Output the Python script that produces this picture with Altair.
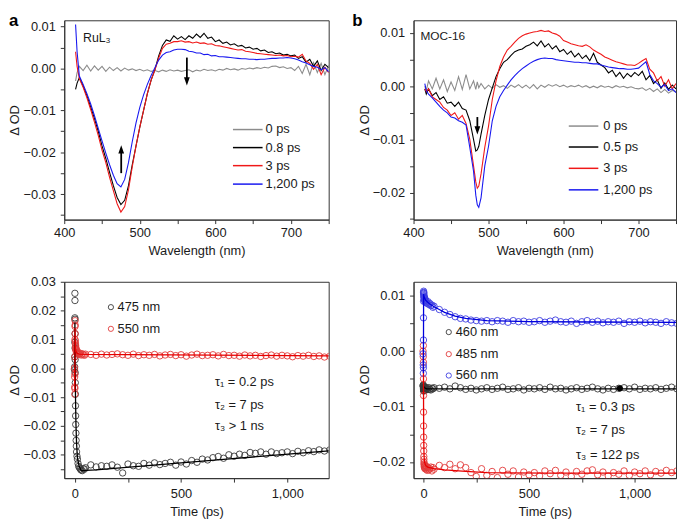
import altair as alt
import pandas as pd

FONT = "Liberation Sans"
INK = "#1a1a1a"

# ---------------- spectra, panel a (RuL3), values in mOD ----------------
WL_A = [415, 417, 420, 425, 430, 435, 440, 445, 450, 455,
        460, 465, 470, 475, 480, 485, 490, 495, 500, 505,
        510, 515, 520, 525, 530, 535, 540, 545, 550, 555,
        560, 565, 570, 575, 580, 585, 590, 595, 600, 605,
        610, 615, 620, 625, 630, 635, 640, 645, 650, 655,
        660, 665, 670, 675, 680, 685, 690, 695, 700, 705,
        710, 715, 720, 725, 730, 735, 740, 745, 750]
A_0PS = [-3.0, -1.0, 0.5, -0.5, 0.8, -0.6, 0.6, -0.4, 0.5, -0.7,
         0.3, -0.5, 0.2, -0.6, 0.1, -0.4, -0.1, -0.5, -0.2, -0.6,
         -0.3, -0.7, -0.5, -0.8, -0.4, -0.7, -0.3, -0.6, -0.4, -0.7,
         -0.5, -0.3, -0.8, -0.4, -0.6, -0.2, -0.5, -0.3, -0.6, -0.2,
         -0.4, 0.0, -0.3, -0.1, -0.4, 0.0, -0.2, 0.1, -0.1, 0.2,
         0.0, 0.3, 0.1, 0.5, 0.6, 0.2, 0.4, 0.0, 0.2, -0.5,
         0.5, -1.2, 1.0, -1.5, 1.4, -1.0, 1.2, -1.5, 0.8]
A_08PS = [-5.0, -3.5, -2.2, -4.2, -6.5, -9.2, -12.0, -15.0, -18.5, -21.5,
          -24.8, -28.0, -30.8, -32.5, -31.5, -28.0, -23.0, -18.5, -14.0, -10.0,
          -6.0, -2.8, -0.3, 3.0, 5.5, 6.8, 6.5, 7.8, 7.0, 7.6,
          6.9, 7.8, 7.2, 8.2, 7.4, 8.4, 7.2, 7.5, 6.4, 6.8,
          6.0, 6.3, 5.6, 5.9, 5.3, 5.5, 4.9, 5.1, 4.6, 4.8,
          4.2, 4.4, 3.8, 4.0, 3.5, 3.7, 3.2, 3.4, 3.0, 3.2,
          2.4, 2.8, 1.5, 2.2, 0.5, 1.8, -0.5, 1.0, 0.2]
A_3PS = [4.0, 0.5, -2.4, -4.5, -7.0, -9.8, -12.8, -16.0, -19.5, -22.5,
         -26.0, -29.2, -32.3, -34.3, -33.0, -29.0, -23.5, -18.5, -14.0, -10.0,
         -6.0, -2.8, -0.4, 2.5, 4.8, 5.8, 6.0, 6.4, 6.4, 6.6,
         6.3, 6.4, 6.1, 6.3, 6.0, 6.1, 5.8, 5.9, 5.5, 5.4,
         5.2, 5.0, 4.8, 4.6, 4.4, 4.5, 4.1, 4.0, 3.8, 3.6,
         3.5, 3.4, 3.3, 3.2, 3.1, 3.2, 3.0, 3.1, 2.8, 2.9,
         2.7, 3.4, 1.8, 1.2, -0.2, 1.0, -1.5, 0.3, -1.0]
A_1200PS = [10.5, 4.0, -1.8, -3.8, -6.0, -8.5, -11.3, -14.3, -17.3, -20.2,
            -23.0, -25.5, -27.5, -28.3, -26.5, -22.5, -17.5, -13.0, -9.3, -6.3,
            -3.8, -1.7, 0.2, 2.0, 3.2, 3.8, 4.0, 4.4, 4.6, 4.6,
            4.5, 4.1, 4.0, 3.7, 3.7, 3.3, 3.4, 3.0, 3.1, 2.8,
            2.8, 2.7, 2.6, 2.5, 2.4, 2.3, 2.3, 2.2, 2.2, 2.1,
            2.2, 2.2, 2.3, 2.4, 2.4, 2.5, 2.5, 2.6, 2.5, 2.3,
            2.0, 1.6, 1.3, 0.9, 0.5, 0.3, -0.3, 0.2, -0.8]
SPEC_A_LABELS = ["0 ps", "0.8 ps", "3 ps", "1,200 ps"]

# ---------------- spectra, panel b (MOC-16), values in mOD ----------------
WL_B = [415, 417, 420, 425, 430, 435, 440, 445, 450, 455,
        460, 465, 470, 475, 480, 483, 485, 487, 490, 495,
        500, 505, 510, 515, 520, 525, 530, 535, 540, 545,
        550, 555, 560, 565, 570, 575, 580, 585, 590, 595,
        600, 605, 610, 615, 620, 625, 630, 635, 640, 645,
        650, 655, 660, 665, 670, 675, 680, 685, 690, 695,
        700, 705, 710, 715, 720, 725, 730, 735, 740, 745, 750]
B_0PS = [0.0, -0.8, 1.0, -0.5, 1.5, -0.5, 1.2, -1.0, 0.8, -0.8,
         1.8, -0.6, 2.2, -0.5, 1.0, -0.6, 0.8, -0.3, 0.5, -0.5,
         0.2, -0.4, 0.3, -0.2, 0.1, -0.4, 0.2, -0.2, 0.3, -0.3,
         0.2, -0.4, 0.3, -0.5, 0.2, -0.2, 0.3, 0.0, 0.3, -0.1,
         0.2, -0.2, 0.1, -0.1, 0.2, -0.2, 0.1, -0.3, 0.0, -0.3,
         0.1, -0.2, 0.0, -0.3, 0.1, -0.2, 0.0, -0.3, -0.1, -0.4,
         -0.5, -0.3, -0.8, -0.4, -1.0, -0.5, -1.2, -0.6, -1.3, -0.8, -1.0]
B_05PS = [-0.5, -1.5, -0.5, -1.8, -1.2, -2.5, -2.0, -3.2, -3.0, -3.8,
          -3.0, -4.2, -4.5, -6.5, -10.0, -12.2, -12.0, -11.3, -9.0, -5.5,
          -2.5, -0.3, 1.8, 3.3, 4.5, 5.0, 5.8, 6.5, 6.8, 7.0,
          7.5, 7.8, 8.3, 7.6, 8.5, 7.4, 8.0, 7.0, 7.6, 6.5,
          6.9, 6.0, 6.6, 5.5, 6.2, 5.2, 5.8, 4.8, 6.2, 4.5,
          4.0, 3.5, 2.5, 3.0, 1.8, 2.6, 1.5, 2.4, 1.8, 2.6,
          2.0, 2.8, 1.2, 2.0, 0.5, 1.2, -0.4, 0.6, -0.6, 0.2, -0.5]
B_3PS = [-0.5, -1.0, -0.5, -2.0, -2.5, -3.0, -4.0, -4.5, -5.5, -5.0,
         -6.2, -5.5, -7.0, -10.0, -15.0, -18.0, -19.2, -18.8, -16.5, -11.5,
         -7.5, -2.5, 1.0, 3.7, 5.5, 6.8, 7.5, 8.3, 9.0, 9.5,
         9.8, 10.0, 10.2, 10.3, 10.5, 10.3, 10.4, 10.0, 9.8, 9.4,
         8.6, 8.3, 8.0, 7.8, 7.6, 7.5, 7.8, 7.4, 6.8, 6.4,
         6.0, 5.5, 5.2, 4.9, 4.6, 4.4, 4.2, 4.0, 4.0, 3.9,
         4.3, 4.8, 5.2, 3.2, 2.5, 1.0, 1.8, 0.0, 1.2, -0.5, 0.5]
B_1200PS = [0.5, -0.8, -1.5, -2.2, -3.0, -3.8, -4.5, -5.0, -5.8, -6.0,
            -6.5, -6.8, -7.3, -11.5, -16.0, -20.5, -22.3, -22.8, -21.0, -15.0,
            -11.3, -6.5, -3.8, -2.0, -0.8, 0.2, 1.2, 2.0, 2.7, 3.3,
            3.8, 4.3, 4.7, 5.0, 5.2, 5.3, 5.2, 5.2, 5.0, 4.9,
            4.8, 4.7, 4.6, 4.5, 4.5, 4.4, 4.4, 4.3, 4.2, 4.2,
            4.0, 3.8, 3.6, 3.5, 3.4, 3.3, 3.3, 3.2, 3.2, 3.3,
            3.4, 4.0, 4.6, 2.2, 1.0, 0.5, -0.2, 0.3, -0.8, -0.5, -1.2]
SPEC_B_LABELS = ["0 ps", "0.5 ps", "3 ps", "1,200 ps"]
SPEC_COLORS = ["#8c8c8c", "#000000", "#f01818", "#1818f0"]

# ---------------- kinetics (time in ps, values in mOD) ----------------
T_EARLY = [-2, -1, -0.6, -0.3, 0, 0.2, 0.4, 0.6, 0.8, 1,
           1.3, 1.6, 2, 2.5, 3, 3.5, 4, 5, 6, 7,
           8, 10, 12, 15, 18, 22, 26, 30, 35, 40, 45, 50]
T_LATE = [75, 100, 125, 150, 175, 200, 225, 250, 275, 300,
          325, 350, 375, 400, 425, 450, 475, 500, 525, 550,
          575, 600, 625, 650, 675, 700, 725, 750, 775, 800,
          825, 850, 875, 900, 925, 950, 975, 1000, 1025, 1050,
          1075, 1100, 1125, 1150, 1175, 1200]

K475_EARLY = [-0.5, 0.5, 4.0, 9.0, 17.5, 26.0, 23.5, 17.0, 12.0, 7.0,
              3.0, -1.5, -5.0, -9.0, -13.0, -16.5, -19.5, -22.5, -25.0, -27.0,
              -29.0, -30.5, -31.5, -33.0, -34.0, -34.5, -35.0, -35.3, -35.5, -34.8, -35.0, -34.5]
K475_LATE = [-33.5, -34.2, -33.8, -34.0, -33.5, -34.3, -36.3, -33.2, -33.8, -34.0,
             -33.0, -33.6, -32.8, -33.4, -33.0, -32.6, -33.6, -32.5, -33.2, -32.0,
             -32.6, -31.5, -31.8, -31.0, -30.6, -31.2, -30.0, -30.5, -29.8, -30.2,
             -29.2, -29.5, -29.0, -29.8, -29.0, -29.6, -29.3, -29.0, -29.6, -28.8,
             -29.3, -28.6, -28.9, -28.3, -28.7, -28.3]
K550_EARLY = [0.0, -3.0, -6.5, -9.0, -7.0, -2.0, 4.0, 10.0, 14.5, 16.5,
              15.0, 12.0, 9.5, 8.5, 7.5, 8.0, 6.5, 7.0, 6.0, 6.5,
              5.5, 6.0, 5.0, 5.5, 5.0, 4.8, 5.2, 4.6, 5.0, 4.8, 4.5, 4.9]
K550_LATE = [4.8, 4.5, 4.9, 4.6, 4.8, 5.0, 4.7, 4.5, 4.9, 4.4,
             4.7, 4.5, 4.8, 4.3, 4.6, 4.8, 4.4, 4.7, 4.2, 4.6,
             4.9, 4.4, 4.5, 4.7, 4.3, 4.8, 4.4, 4.5, 4.2, 4.6,
             4.3, 4.5, 4.1, 4.4, 4.6, 4.2, 4.5, 4.3, 4.0, 4.4,
             4.2, 4.5, 4.1, 4.3, 3.9, 4.2]
FIT475_T = [-2, -0.5, 0, 0.2, 0.5, 1, 2, 3, 5, 8, 12, 20, 30, 100, 300, 500, 700, 900, 1200]
FIT475_V = [0.0, 5.0, 13.0, 15.8, 12.0, 6.0, -3.0, -10.0, -19.0, -26.0, -31.0, -34.0, -35.5,
            -35.2, -34.0, -32.8, -31.6, -30.4, -28.6]
FIT550_T = [-2, -1, -0.3, 0, 0.5, 1, 1.5, 2, 3, 5, 10, 20, 50, 1200]
FIT550_V = [0.0, -3.0, -8.0, -6.0, 6.0, 14.0, 12.0, 9.0, 7.0, 6.0, 5.2, 4.9, 4.8, 4.3]
KIN_A_LABELS = ["475 nm", "550 nm"]

K460_EARLY = [-6.2, -6.3, -6.1, -6.4, -6.5, -6.8, -7.0, -6.6, -6.9, -7.2,
              -6.7, -7.0, -6.5, -6.9, -7.1, -6.6, -6.8, -7.0, -6.7, -6.9,
              -6.5, -6.8, -7.0, -6.6, -6.8, -6.9, -6.6, -6.9, -7.0, -6.7, -6.8, -6.6]
K460_LATE = [-6.7, -6.5, -6.8, -6.3, -6.6, -6.9, -6.7, -7.0, -6.8, -6.6,
             -6.9, -6.7, -6.5, -6.9, -6.8, -6.6, -7.0, -6.7, -6.8, -6.6,
             -6.9, -6.5, -6.8, -6.7, -7.0, -6.8, -6.6, -6.9, -6.7, -6.5,
             -6.8, -7.0, -6.7, -6.9, -6.7, -6.6, -6.8, -6.5, -6.9, -6.7,
             -6.8, -6.6, -6.9, -6.7, -6.5, -6.8]
K485_EARLY = [0.0, -1.0, 1.0, -2.0, -5.0, -8.0, -11.0, -13.5, -15.5, -17.0,
              -18.0, -19.0, -19.5, -20.0, -20.5, -20.3, -20.8, -21.0, -20.6, -21.2,
              -20.7, -21.0, -21.3, -20.8, -21.5, -21.0, -21.4, -21.2, -20.9, -21.6, -21.0, -21.3]
K485_LATE = [-20.6, -21.0, -20.4, -21.2, -20.5, -21.0, -21.9, -22.6, -21.2, -22.4,
             -21.7, -22.8, -21.5, -22.2, -21.6, -22.7, -21.8, -22.3, -21.9, -22.5,
             -21.6, -22.1, -21.5, -22.4, -21.8, -22.6, -21.7, -22.2, -21.6, -21.4,
             -22.3, -21.8, -22.5, -21.9, -22.2, -21.6, -22.4, -21.8, -22.1, -21.6,
             -22.3, -21.7, -22.0, -21.5, -21.9, -21.6]
K560_EARLY = [-0.5, -2.5, -4.0, -3.0, 2.0, 6.0, 9.0, 10.5, 10.8, 10.6,
              10.4, 10.2, 10.0, 9.8, 9.7, 9.5, 9.3, 9.6, 9.1, 9.4,
              9.0, 8.8, 9.1, 8.7, 8.6, 8.9, 8.4, 8.6, 8.2, 8.3, 7.9, 8.1]
K560_LATE = [7.5, 7.0, 6.6, 6.2, 5.9, 5.8, 5.6, 5.5, 5.4, 5.5,
             5.3, 5.5, 5.4, 5.2, 5.5, 5.3, 5.4, 5.2, 5.3, 5.5,
             5.2, 5.4, 5.6, 5.3, 5.2, 5.4, 5.0, 5.3, 5.5, 5.2,
             5.4, 5.1, 5.3, 5.2, 5.4, 5.0, 5.3, 5.2, 5.4, 5.1,
             5.3, 5.2, 5.0, 5.3, 5.1, 5.0]
FIT460_T = [0, 5, 15, 30, 1200]
FIT460_V = [-6.3, -6.6, -6.8, -6.8, -6.8]
FIT485_T = [-1, -0.3, 0, 0.5, 1, 2, 3, 5, 10, 20, 50, 100, 200, 300, 600, 1200]
FIT485_V = [0.5, -0.5, -3.0, -10.0, -14.0, -17.5, -19.0, -20.0, -20.6, -20.9, -21.2, -21.4,
            -21.7, -21.9, -22.0, -22.0]
FIT560_T = [-1, -0.3, 0, 0.5, 1, 2, 5, 10, 20, 30, 50, 75, 100, 150, 200, 300, 500, 800, 1200]
FIT560_V = [-1.0, -4.0, 0.0, 8.0, 10.3, 10.0, 9.6, 9.2, 8.8, 8.5, 8.0, 7.5, 7.0, 6.3, 5.9,
            5.5, 5.3, 5.25, 5.2]
DOT_T = [930]
DOT_V = [-6.7]
KIN_B_LABELS = ["460 nm", "485 nm", "560 nm"]

TAU_A = ["τ₁ = 0.2 ps", "τ₂ = 7 ps", "τ₃ > 1 ns"]
TAU_B = ["τ₁ = 0.3 ps", "τ₂ = 7 ps", "τ₃ = 122 ps"]


# ---------------- helpers ----------------
def long_df(xs_list, ys_list, labels):
    rows = []
    for lab, xs, ys in zip(labels, xs_list, ys_list):
        assert len(xs) == len(ys), (lab, len(xs), len(ys))
        for xv, yv in zip(xs, ys):
            rows.append({"x": xv, "y": yv / 1000.0, "s": lab})
    return pd.DataFrame(rows)


AXBASE = dict(labelFont=FONT, labelFontSize=13, labelColor=INK, titleFont=FONT,
              titleFontSize=13, titleFontWeight="normal", titleColor=INK,
              domainColor="#333333", tickColor="#333333", tickSize=4, tickWidth=1,
              domainWidth=1, grid=False, labelOverlap=False, labelFlush=False)
Y_EXPR = "abs(round(datum.value * 200)) % 2 == 0 ? datum.label : ''"


def y_axis(values):
    return alt.Axis(values=values, format=".2f", labelExpr=Y_EXPR, title="Δ OD",
                    titleX=-43, labelPadding=5, **AXBASE)


def x_axis_wl():
    return alt.Axis(values=[400, 450, 500, 550, 600, 650, 700, 750], format="d",
                    labelExpr="datum.value % 100 == 0 ? datum.label : ''",
                    title="Wavelength (nm)", labelPadding=3, titlePadding=5, **AXBASE)


def x_axis_t():
    return alt.Axis(values=[0, 250, 500, 750, 1000], format=",d",
                    labelExpr="datum.value % 500 == 0 ? datum.label : ''",
                    title="Time (ps)", labelPadding=6, titlePadding=5, **AXBASE)


def make_xy(xdom, xaxis, ydom, yaxis):
    xs = alt.Scale(domain=xdom, nice=False, zero=False)
    ys = alt.Scale(domain=ydom, nice=False, zero=False)

    def X(field="x"):
        return alt.X(f"{field}:Q", scale=xs, axis=xaxis)

    def Y(field="y"):
        return alt.Y(f"{field}:Q", scale=ys, axis=yaxis)
    return X, Y


def letter(ch, dx):
    return alt.Chart(pd.DataFrame({"t": [ch]})).mark_text(
        align="left", baseline="top", font=FONT, fontSize=17, fontWeight="bold", color="#000"
    ).encode(x=alt.value(dx), y=alt.value(-7), text="t:N")


def text_layer(df, X, Y, size=13, **kw):
    return alt.Chart(df).mark_text(align="left", baseline="middle", font=FONT,
                                   fontSize=size, color=INK, **kw).encode(
        x=X(), y=Y(), text="s:N")


def arrow(X, Y, xv, y0, yhead, up):
    shaft = alt.Chart(pd.DataFrame({"x": [xv], "y": [y0], "y2": [yhead]})).mark_rule(
        color="#000", strokeWidth=1.8).encode(x=X(), y=Y(), y2="y2:Q")
    shape = "M0,-1L0.7,1L-0.7,1Z" if up else "M0,1L0.7,-1L-0.7,-1Z"
    head = alt.Chart(pd.DataFrame({"x": [xv], "y": [yhead]})).mark_point(
        shape=shape, filled=True, size=70, color="#000", opacity=1, strokeWidth=0).encode(
        x=X(), y=Y())
    return shaft + head


def spectra_panel(wl, series, labels, ydom, yvals, leg_x, leg_x2, leg_tx, leg_y,
                  tag_text, tag_x, tag_y, tag_size, arrows, letter_ch, letter_dx, width):
    X, Y = make_xy([400, 750], x_axis_wl(), ydom, y_axis(yvals))
    cscale = alt.Scale(domain=labels, range=SPEC_COLORS)
    df = long_df([wl] * 4, series, labels)
    lines = alt.Chart(df).mark_line(strokeWidth=1.1, clip=True).encode(
        x=X(), y=Y(), color=alt.Color("s:N", scale=cscale, legend=None))
    leg_df = pd.DataFrame({"s": labels, "x": [leg_x] * 4, "x2": [leg_x2] * 4, "y": leg_y})
    leg_lines = alt.Chart(leg_df).mark_rule(strokeWidth=1.5).encode(
        x=X(), x2="x2:Q", y=Y(), color=alt.Color("s:N", scale=cscale, legend=None))
    leg_txt = text_layer(pd.DataFrame({"s": labels, "x": [leg_tx] * 4, "y": leg_y}), X, Y)
    tag = text_layer(pd.DataFrame({"s": [tag_text], "x": [tag_x], "y": [tag_y]}), X, Y,
                     size=tag_size)
    layers = [lines, leg_lines, leg_txt, tag]
    for a in arrows:
        layers.append(arrow(X, Y, *a))
    layers.append(letter(letter_ch, letter_dx))
    return alt.layer(*layers).properties(width=width, height=202)


def kinetics_panel(times, series, fits, labels, circ_colors, fit_colors, xdom, ydom, yvals,
                   leg_cx, leg_tx, leg_y, tau, tau_x, tau_y, width, dots=None):
    X, Y = make_xy(xdom, x_axis_t(), ydom, y_axis(yvals))
    cs = alt.Scale(domain=labels, range=circ_colors)
    fs = alt.Scale(domain=labels, range=fit_colors)
    df = long_df([times] * len(labels), series, labels)
    pts = alt.Chart(df).mark_point(shape="circle", filled=False, size=42, strokeWidth=0.9,
                                   opacity=1, clip=True).encode(
        x=X(), y=Y(), color=alt.Color("s:N", scale=cs, legend=None))
    fdf = long_df([f[0] for f in fits], [f[1] for f in fits], labels)
    fit = alt.Chart(fdf).mark_line(strokeWidth=1.3, clip=True).encode(
        x=X(), y=Y(), stroke=alt.Stroke("s:N", scale=fs, legend=None))
    leg_pts = alt.Chart(pd.DataFrame({"s": labels, "x": [leg_cx] * len(labels), "y": leg_y})
                        ).mark_point(shape="circle", filled=False, size=28, strokeWidth=0.9,
                                     opacity=1).encode(
        x=X(), y=Y(), color=alt.Color("s:N", scale=cs, legend=None))
    leg_txt = text_layer(pd.DataFrame({"s": labels, "x": [leg_tx] * len(labels), "y": leg_y}),
                         X, Y)
    tau_txt = text_layer(pd.DataFrame({"s": tau, "x": [tau_x] * 3, "y": tau_y}), X, Y)
    layers = [pts, fit, leg_pts, leg_txt, tau_txt]
    if dots is not None:
        layers.append(alt.Chart(long_df([dots[0]], [dots[1]], ["dot"])).mark_point(
            shape="circle", filled=True, size=40, color="#000", opacity=1).encode(
            x=X(), y=Y()))
    return alt.layer(*layers).properties(width=width, height=199)


Y_TOP_A = [-0.035, -0.03, -0.025, -0.02, -0.015, -0.01, -0.005, 0, 0.005, 0.01]
Y_TOP_B = [-0.025, -0.02, -0.015, -0.01, -0.005, 0, 0.005, 0.01]
Y_BOT_A = [-0.035, -0.03, -0.025, -0.02, -0.015, -0.01, -0.005, 0, 0.005, 0.01,
           0.015, 0.02, 0.025, 0.03]
Y_BOT_B = [-0.02, -0.015, -0.01, -0.005, 0, 0.005, 0.01]

top_a = spectra_panel(
    WL_A, [A_0PS, A_08PS, A_3PS, A_1200PS], SPEC_A_LABELS, [-0.0361, 0.0115], Y_TOP_A,
    623.3, 662.5, 666.4, [-0.01459, -0.0189, -0.02321, -0.02762],
    "RuL₃", 424.8, 0.00726, 12.5,
    [(475.4, -0.0250, -0.0193, True), (562.3, 0.0026, -0.0031, False)],
    "a", -56, 268)

top_b = spectra_panel(
    WL_B, [B_0PS, B_05PS, B_3PS, B_1200PS], SPEC_B_LABELS, [-0.0251, 0.0124], Y_TOP_B,
    607.0, 646.4, 653.0, [-0.0075, -0.01144, -0.01545, -0.0195],
    "MOC-16", 409.2, 0.0094, 12,
    [(485.1, -0.0058, -0.0083, False)],
    "b", -62, 266)

bot_a = kinetics_panel(
    T_EARLY + T_LATE, [K475_EARLY + K475_LATE, K550_EARLY + K550_LATE],
    [(FIT475_T, FIT475_V), (FIT550_T, FIT550_V)], KIN_A_LABELS,
    ["#3a3a3a", "#e23a3a"], ["#000000", "#e80000"], [-50, 1195], [-0.0381, 0.03], Y_BOT_A,
    169.7, 200.9, [0.0212, 0.01368], TAU_A, 659.4, [-0.0048, -0.01278, -0.01997], 268)

bot_b = kinetics_panel(
    T_EARLY + T_LATE, [K460_EARLY + K460_LATE, K485_EARLY + K485_LATE, K560_EARLY + K560_LATE],
    [(FIT460_T, FIT460_V), (FIT485_T, FIT485_V), (FIT560_T, FIT560_V)], KIN_B_LABELS,
    ["#3a3a3a", "#e23a3a", "#3d3de0"], ["#000000", "#e80000", "#0000dd"],
    [-47, 1196], [-0.0229, 0.0125], Y_BOT_B,
    119.8, 152.5, [0.00343, -0.00054, -0.0044], TAU_B, 722.6, [-0.01005, -0.0142, -0.0187], 266,
    dots=(DOT_T, DOT_V))

chart = alt.concat(top_a, top_b, bot_a, bot_b, columns=2,
                   spacing={"row": 63, "column": 86}, bounds="flush")
chart = chart.resolve_scale(x="independent", y="independent", color="independent",
                            stroke="independent")
chart = chart.properties(padding=0, background="white").configure_view(
    stroke="#333333", strokeWidth=1)

chart.save("out.html", embed_options={"renderer": "svg", "actions": False})
